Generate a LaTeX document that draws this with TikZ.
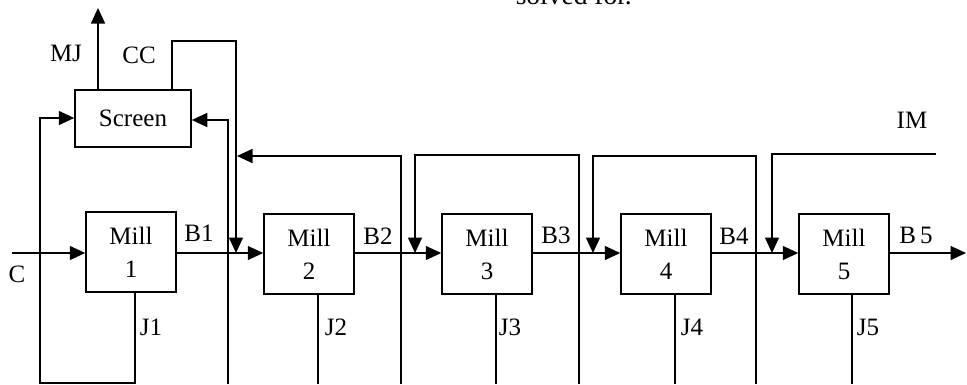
\documentclass[tikz,border=0pt]{standalone}
\usepackage{fontspec}
\setmainfont{Liberation Serif}
\usetikzlibrary{arrows.meta}
\begin{document}
\begin{tikzpicture}[x=1pt,y=-1pt,line width=1.5pt,
  box/.style={draw, rectangle, minimum width=90pt, minimum height=80pt, inner sep=0pt, align=center, font=\fontsize{25}{33}\selectfont},
  scr/.style={draw, rectangle, minimum width=116pt, minimum height=57pt, inner sep=0pt, font=\fontsize{25}{28}\selectfont},
  lbl/.style={font=\fontsize{25}{28}\selectfont, inner sep=0pt},
  arr/.style={-{Triangle[length=15.5pt,width=14pt]}},
  ln/.style={line join=miter}]
\useasboundingbox (0,0) rectangle (967,384);
% nodes
\node[scr] (screen) at (133,118.5) {Screen};
\node[box] (mill1) at (131,252) {Mill\\1};
\node[box] (mill2) at (309,254) {Mill\\2};
\node[box] (mill3) at (487,254) {Mill\\3};
\node[box] (mill4) at (666,254) {Mill\\4};
\node[box] (mill5) at (844,254) {Mill\\5};
% coordinates
\coordinate (cin) at (12,253);
\coordinate (bout) at (966,253);
\coordinate (mjtop) at (98,8);
\coordinate (imend) at (936,154);
% labels
\node[lbl] (lc) at (17,274) {C};
\node[lbl] (lb1) at (199,233) {B1};
\node[lbl] (lb2) at (378,236) {B2};
\node[lbl] (lb3) at (556,235) {B3};
\node[lbl] (lb4) at (734,236) {B4};
\node[lbl] (lb5) at (916,235) {B\,5};
\node[lbl] (lmj) at (66,53) {MJ};
\node[lbl] (lcc) at (139,55) {CC};
\node[lbl] (lim) at (912,120) {IM};
\node[lbl] (lj1) at (151,327) {J1};
\node[lbl] (lj2) at (336,327) {J2};
\node[lbl] (lj3) at (510,327) {J3};
\node[lbl] (lj4) at (692,327) {J4};
\node[lbl] (lj5) at (868,327) {J5};
\node[inner sep=0pt, font=\fontsize{27.5}{30}\selectfont, anchor=base west] (solved) at (515,4) {solved for.};
% main line
\draw[arr] (cin) -- (mill1.west |- cin);
\draw[arr] (mill1.east |- cin) -- (mill2.west |- cin);
\draw[arr] (mill2.east |- cin) -- (mill3.west |- cin);
\draw[arr] (mill3.east |- cin) -- (mill4.west |- cin);
\draw[arr] (mill4.east |- cin) -- (mill5.west |- cin);
\draw[arr] (mill5.east |- cin) -- (bout);
% screen
\draw[arr] ([xshift=-35pt]screen.north) -- (mjtop);
\draw[arr,ln] ([xshift=39pt]screen.north) -- (172,41) -- (236,41) -- (236,253);
\draw[arr,ln] (228,384) -- (228,120) -- (screen.east |- 0,120);
\draw[arr,ln] ([xshift=4pt]mill1.south) -- (135,383) -- (40,383) -- (40,118) -- (screen.west |- 0,118);
% J lines
\draw ([xshift=9pt]mill2.south) -- (318,384);
\draw ([xshift=9pt]mill3.south) -- (496,384);
\draw ([xshift=9pt]mill4.south) -- (675,384);
\draw ([xshift=8pt]mill5.south) -- (852,384);
% recycle loops
\draw[arr,ln] (401,384) -- (401,156) -- (237,156);
\draw[arr,ln] (579,384) -- (579,155) -- (415,155) -- (415,253);
\draw[arr,ln] (756,384) -- (756,156) -- (593,156) -- (593,253);
\draw[arr,ln] (imend) -- (772,154) -- (772,253);
\end{tikzpicture}
\end{document}
